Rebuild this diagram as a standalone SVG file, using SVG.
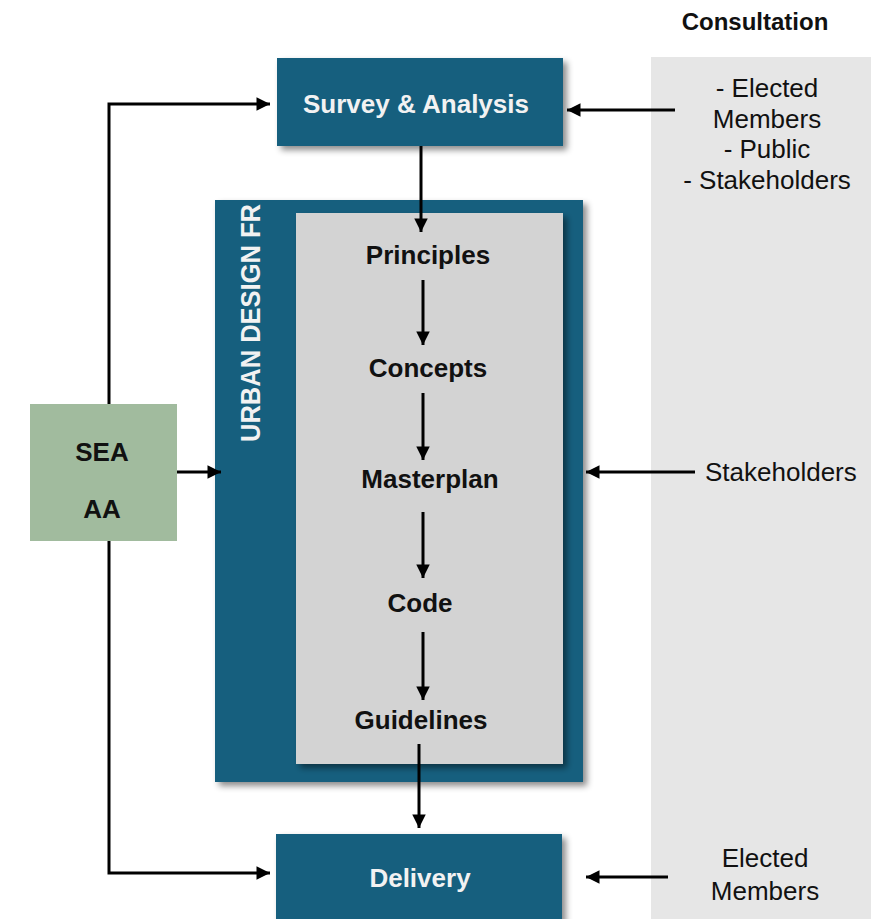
<svg xmlns="http://www.w3.org/2000/svg" width="871" height="919" viewBox="0 0 871 919">
<defs>
<style>
.blue{fill:#175e7e}
.t{font-family:"Liberation Sans",Arial,sans-serif;font-size:26px;text-anchor:middle}
.b{font-weight:bold;fill:#111}
.w{font-weight:bold;fill:#f2f2f2}
.r{fill:#111}
.ln{stroke:#000;stroke-width:3;fill:none}
</style>
<filter id="sh" x="-10%" y="-10%" width="130%" height="130%">
<feDropShadow dx="4" dy="4" stdDeviation="3" flood-color="#000" flood-opacity="0.45"/>
</filter>
<marker id="ah" viewBox="0 0 10 10" refX="10" refY="5" markerWidth="5" markerHeight="4.5" markerUnits="strokeWidth" orient="auto">
<path d="M0,0 L10,5 L0,10 z" fill="#000"/>
</marker>
<clipPath id="udfclip"><rect x="215" y="200" width="368" height="582"/></clipPath>
</defs>
<rect width="871" height="919" fill="#fff"/>

<g id="consultation">
<rect x="651" y="57" width="220" height="862" fill="#e6e6e6"/>
<text class="t b" x="755" y="30" style="font-size:24px">Consultation</text>
<text class="t r" x="767" y="97">- Elected</text>
<text class="t r" x="767" y="128">Members</text>
<text class="t r" x="767" y="158">- Public</text>
<text class="t r" x="767" y="189">- Stakeholders</text>
<text class="t r" x="705" y="481" style="text-anchor:start">Stakeholders</text>
<text class="t r" x="765" y="867">Elected</text>
<text class="t r" x="765" y="900">Members</text>
</g>

<g id="survey">
<rect class="blue" x="277" y="58" width="286" height="88" filter="url(#sh)"/>
<text class="t w" x="416" y="113">Survey &amp; Analysis</text>
</g>

<g id="udf">
<rect class="blue" x="215" y="200" width="368" height="582" filter="url(#sh)"/>
<g clip-path="url(#udfclip)">
<text class="t w" style="text-anchor:start;font-size:27px" transform="translate(260,442) rotate(-90) scale(0.945,1)">URBAN DESIGN FR</text>
</g>
<rect x="296" y="213" width="267" height="551" fill="#d3d3d3" filter="url(#sh)"/>
</g>

<g id="principles"><text class="t b" x="428" y="264">Principles</text></g>
<g id="concepts"><text class="t b" x="428" y="377">Concepts</text></g>
<g id="masterplan"><text class="t b" x="430" y="488">Masterplan</text></g>
<g id="code"><text class="t b" x="420" y="612">Code</text></g>
<g id="guidelines"><text class="t b" x="421" y="729">Guidelines</text></g>

<g id="sea">
<rect x="30" y="404" width="147" height="137" fill="#a1bb9e"/>
<text class="t b" x="102" y="461">SEA</text>
<text class="t b" x="102" y="518">AA</text>
</g>

<g id="delivery">
<rect class="blue" x="276" y="834" width="286" height="90" filter="url(#sh)"/>
<text class="t w" x="420" y="887">Delivery</text>
</g>

<g id="connectors">
<path class="ln" d="M109,404 V104 H270" marker-end="url(#ah)"/>
<path class="ln" d="M109,541 V873 H270" marker-end="url(#ah)"/>
<path class="ln" d="M177,472 H221" marker-end="url(#ah)"/>
<path class="ln" d="M675,110 H567" marker-end="url(#ah)"/>
<path class="ln" d="M695,472 H586" marker-end="url(#ah)"/>
<path class="ln" d="M668,877 H586" marker-end="url(#ah)"/>
<path class="ln" d="M421,146 V232" marker-end="url(#ah)"/>
<path class="ln" d="M423,280 V345" marker-end="url(#ah)"/>
<path class="ln" d="M423,393 V460" marker-end="url(#ah)"/>
<path class="ln" d="M423,512 V578" marker-end="url(#ah)"/>
<path class="ln" d="M423,632 V700" marker-end="url(#ah)"/>
<path class="ln" d="M419,744 V828" marker-end="url(#ah)"/>
</g>
</svg>
